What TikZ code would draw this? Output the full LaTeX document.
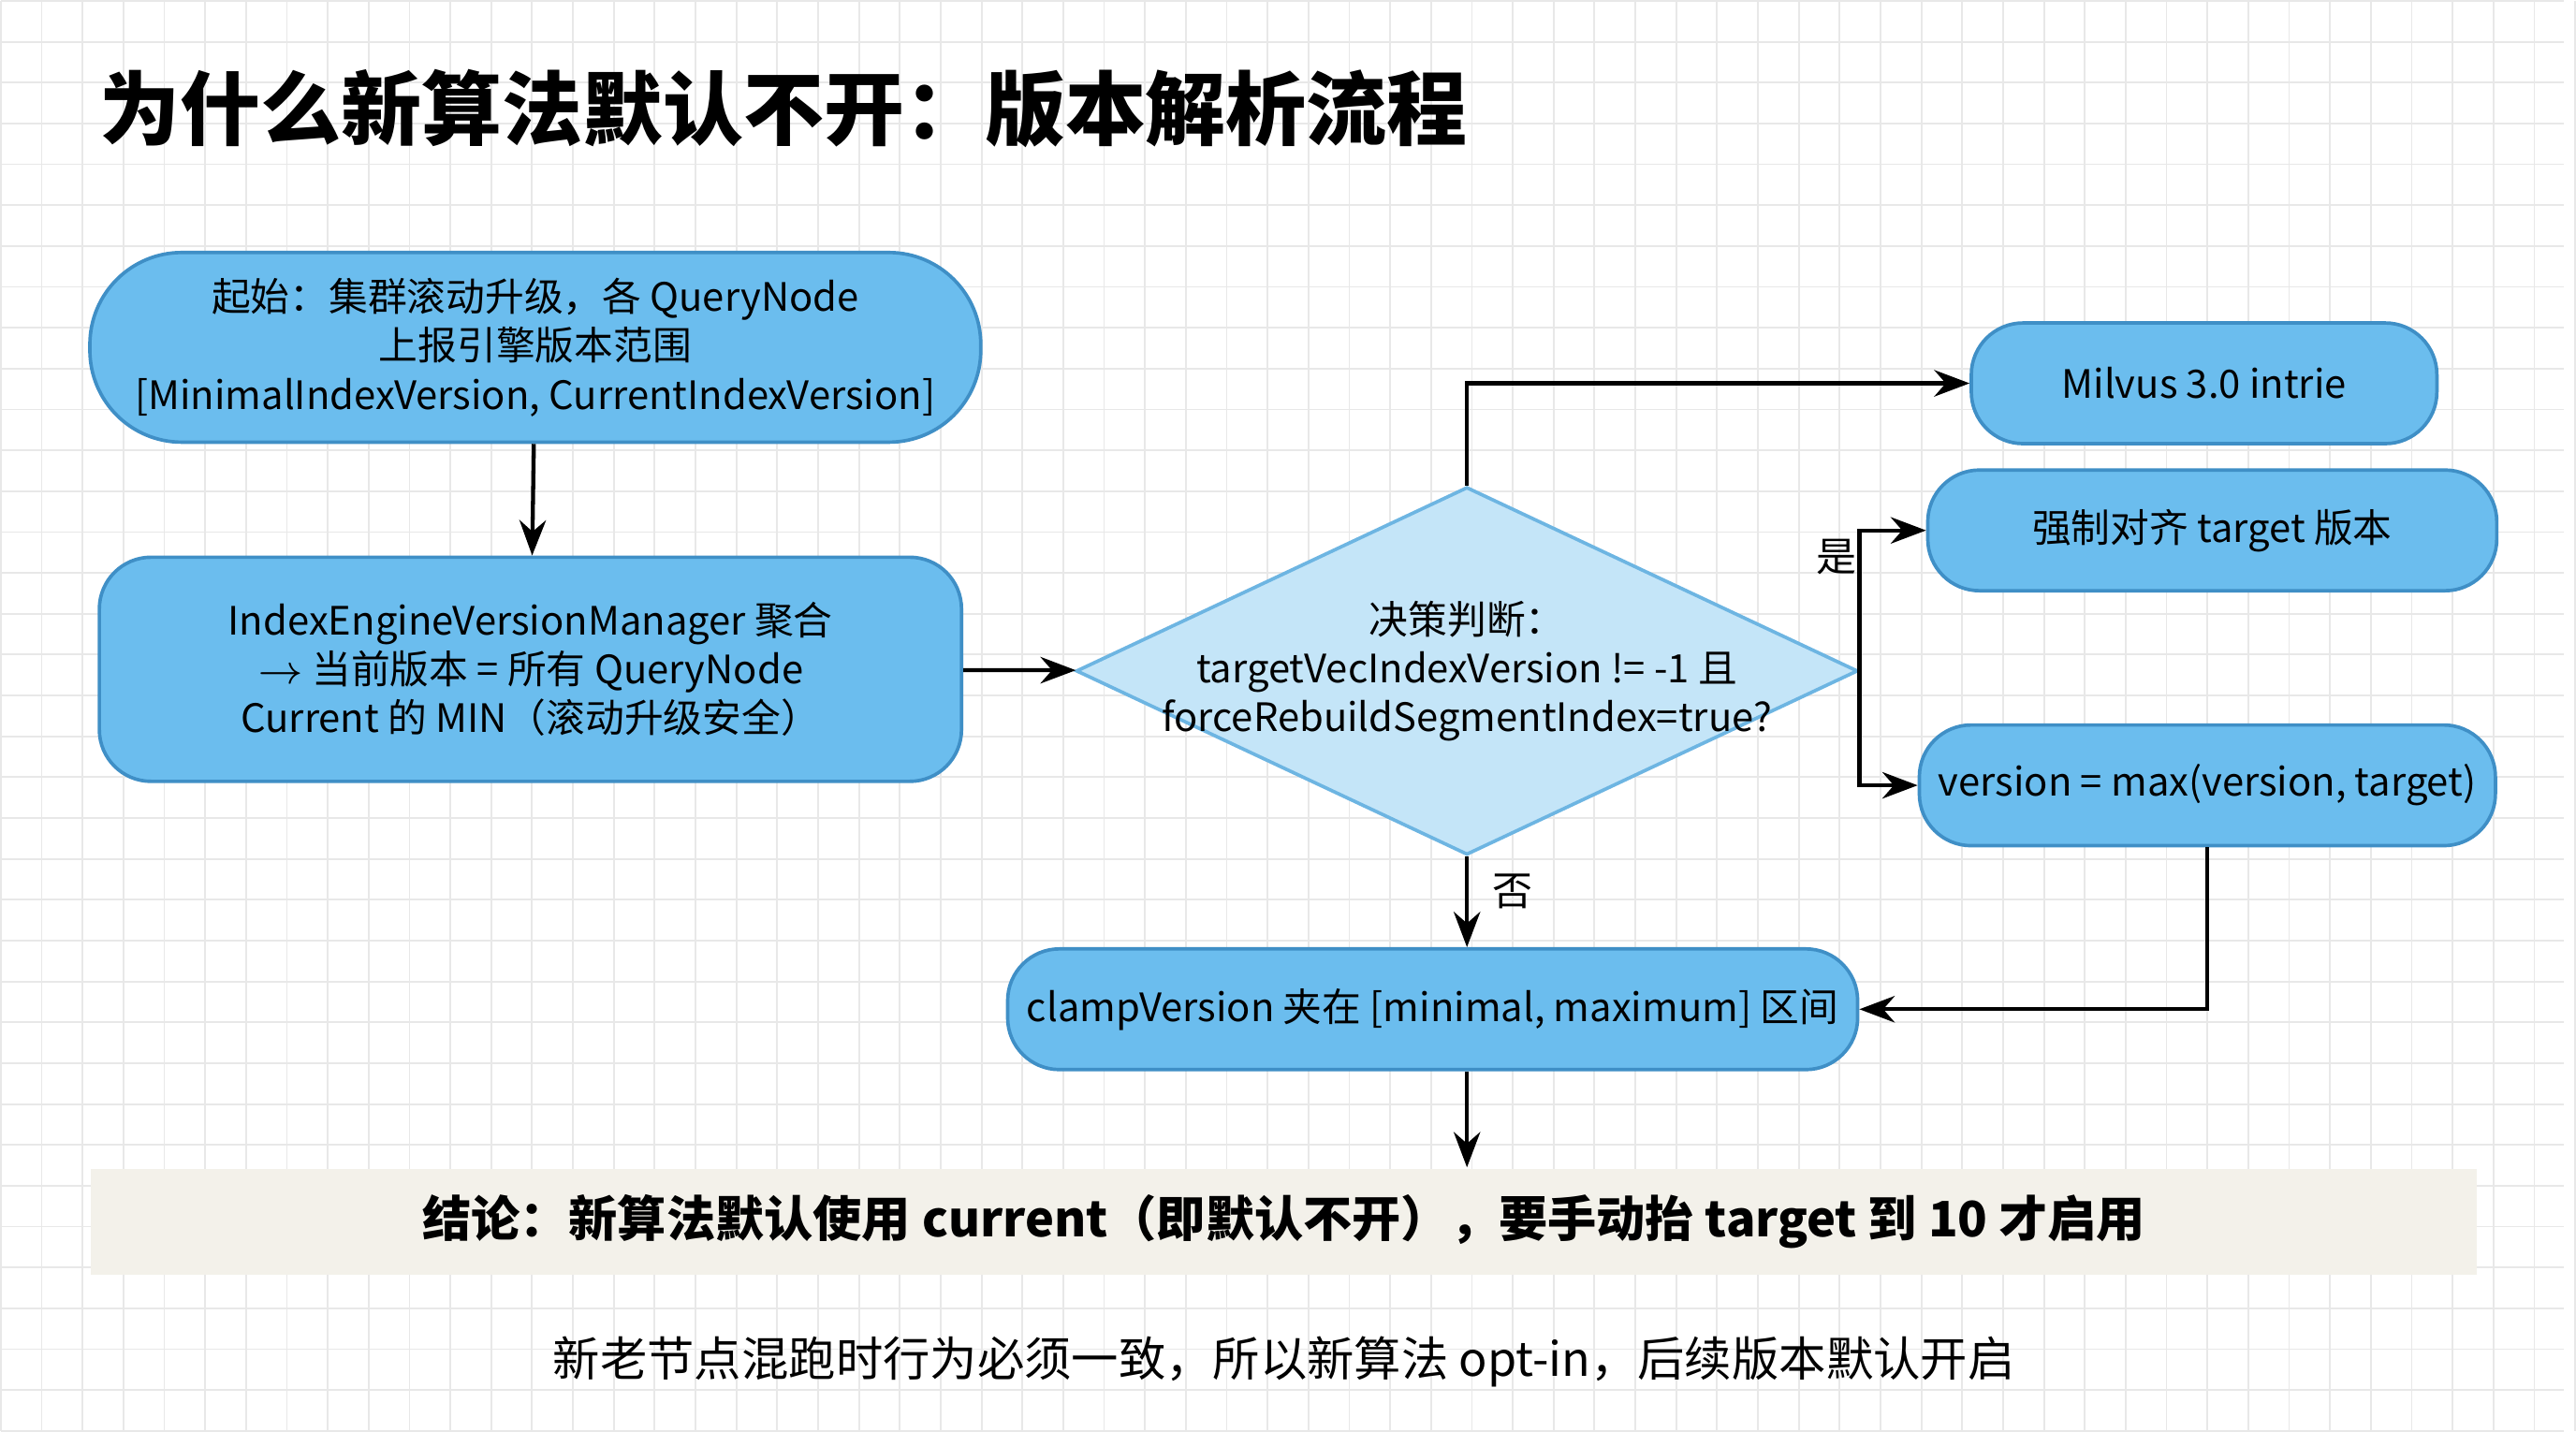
\documentclass[tikz,border=0pt]{standalone}
\usepackage{fontspec}
\setmainfont{Noto Sans CJK SC}
\usetikzlibrary{arrows.meta, positioning, shapes.geometric}
\definecolor{boxfill}{HTML}{6BBDEE}
\definecolor{boxline}{HTML}{3F8FC6}
\definecolor{dfill}{HTML}{C4E5F8}
\definecolor{dline}{HTML}{6DB5E2}
\definecolor{band}{HTML}{F3F1EA}
\tikzset{
  box/.style={draw=boxline, fill=boxfill, rounded corners=9pt, line width=0.6pt, align=center, font=\fontsize{6.8}{8.5}\selectfont},
  arr/.style={->, line width=0.7pt, black}
}
\begin{document}
\begin{tikzpicture}[>=Stealth, x=0.01cm, y=-0.01cm]
        % background and grid
        \fill[white] (0,0) rectangle (1568,875);
        \foreach \gx in {0,25,...,1575} \draw[black!9, line width=0.3pt] (\gx,0) -- (\gx,875);
        \foreach \gy in {0,25,...,875} \draw[black!9, line width=0.3pt] (0,\gy) -- (1568,\gy);
        \useasboundingbox (0,0) rectangle (1568,875);

        % Title
        \node[anchor=west, font=\fontsize{14}{17}\selectfont\bfseries] (title) at (48,66) {为什么新算法默认不开：版本解析流程};

        % Left column
        \node[box, rounded corners=16pt, minimum width=155pt, minimum height=33pt] (start) at (327,212)
          {起始：集群滚动升级，各 QueryNode\\上报引擎版本范围\\{}[MinimalIndexVersion, CurrentIndexVersion]};
        \node[box, minimum width=150pt, minimum height=39pt] (mgr) at (324,409)
          {IndexEngineVersionManager 聚合\\$\rightarrow$ 当前版本 = 所有 QueryNode\\Current 的 MIN（滚动升级安全）};

        % Decision
        \node[diamond, draw=dline, fill=dfill, line width=0.6pt, inner sep=0pt, minimum width=136pt, minimum height=64pt, align=center, font=\fontsize{6.8}{8.5}\selectfont] (dec) at (897,410)
          {\vphantom{X}};
        \node[align=center, font=\fontsize{6.8}{8.5}\selectfont] (dectext) at (dec.center)
          {决策判断：\\targetVecIndexVersion != -1 且\\forceRebuildSegmentIndex=true?};

        % Right column
        \node[box, minimum width=81pt, minimum height=21pt] (milvus) at (1348,234) {Milvus 3.0 intrie};
        \node[box, minimum width=99pt, minimum height=21pt] (force) at (1353,324) {强制对齐 target 版本};
        \node[box, minimum width=100pt, minimum height=21pt] (ver) at (1350,480) {version = max(version, target)};
        \node[box, minimum width=141pt, minimum height=21pt] (clamp) at (876,617) {clampVersion 夹在 [minimal, maximum] 区间};

        % Conclusion band
        \node[fill=band, minimum width=415pt, minimum height=18.5pt, font=\fontsize{8.5}{10}\selectfont\bfseries] (concl) at (785,747)
          {结论：新算法默认使用 current（即默认不开），要手动抬 target 到 10 才启用};
        \node[font=\fontsize{8.2}{10}\selectfont] (foot) at (785,833)
          {新老节点混跑时行为必须一致，所以新算法 opt-in，后续版本默认开启};

        % Connectors
        \draw[arr] (start) -- (mgr);
        \draw[arr] (mgr) -- (dec);
        \draw[arr] (dec.north) |- (milvus.west);
        \draw[arr] (dec.east) |- (force.west);
        \node[font=\fontsize{7}{8}\selectfont] (yeslbl) at (1123,340) {是};
        \draw[arr] (dec.east) |- (ver.west);
        \draw[arr] (dec.south) -- (clamp.north -| dec.south);
        \node[font=\fontsize{7}{8}\selectfont] (nolbl) at (925,545) {否};
        \draw[arr] (ver.south) |- (clamp.east);
        \draw[arr] (clamp.south -| dec.south) -- (concl.north -| dec.south);
\end{tikzpicture}
\end{document}
